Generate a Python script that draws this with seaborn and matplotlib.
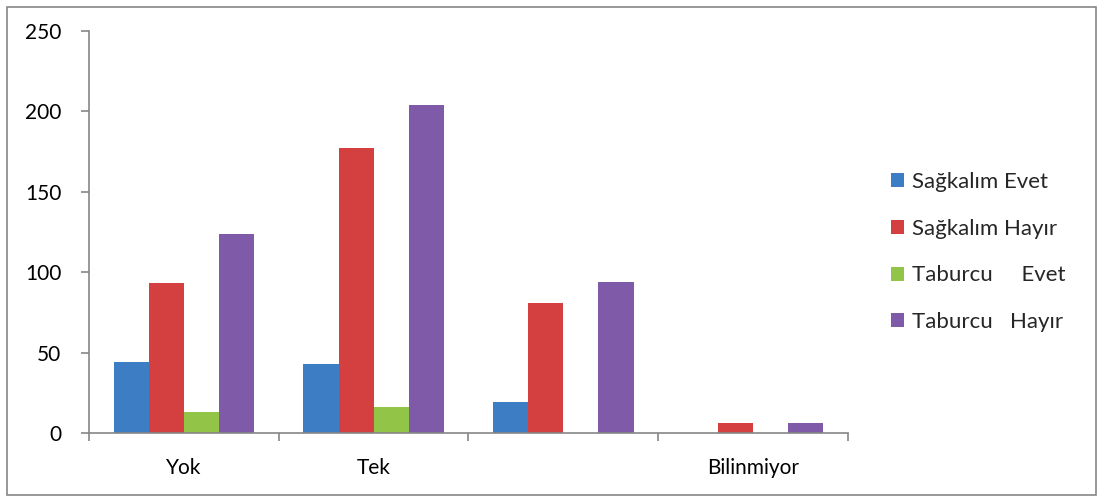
import matplotlib
matplotlib.use("Agg")
import matplotlib.pyplot as plt
import matplotlib.patches as mpatches
import seaborn as sns
import pandas as pd

categories = ["Yok", "Tek", " ", "Bilinmiyor"]
series_names = ["Sağkalım Evet", "Sağkalım Hayır", "Taburcu     Evet", "Taburcu   Hayır"]
sagkalim_evet = [44, 43, 19, 0]
sagkalim_hayir = [93, 177, 81, 6]
taburcu_evet = [13, 16, 0, 0]
taburcu_hayir = [124, 204, 94, 6]
y_ticks = [0, 50, 100, 150, 200, 250]

colors = ["#3C7DC4", "#D43F3F", "#92C447", "#7E5AA8"]

rows = []
for name, vals in zip(series_names, [sagkalim_evet, sagkalim_hayir, taburcu_evet, taburcu_hayir]):
    for c, v in zip(categories, vals):
        rows.append({"cat": c, "series": name, "value": v})
df = pd.DataFrame(rows)

sns.set_theme(style="white")
plt.rcParams["font.family"] = ["Lato", "DejaVu Sans"]

fig = plt.figure(figsize=(11.03, 5.01), dpi=100)
ax = fig.add_axes([89/1103, 1-433/501, (848-89)/1103, (433-31)/501])

sns.barplot(data=df, x="cat", y="value", hue="series", order=categories,
            hue_order=series_names, palette=colors, width=0.74, ax=ax,
            saturation=1, linewidth=0, legend=True)

ax.set_xlim(-0.5, 3.5)
ax.set_ylim(0, 250)
ax.set_yticks(y_ticks)
ax.set_xlabel("")
ax.set_ylabel("")
for s in ["top", "right"]:
    ax.spines[s].set_visible(False)
for s in ["left", "bottom"]:
    ax.spines[s].set_color("#868686")
    ax.spines[s].set_linewidth(1.2)

ax.tick_params(axis="y", which="major", direction="out", length=6, width=1.2,
               color="#868686", labelsize=15, pad=14, left=True)
ax.tick_params(axis="x", which="major", length=0, labelsize=15, pad=18)
ax.set_xticks([-0.5, 0.5, 1.5, 2.5, 3.5], minor=True)
ax.tick_params(axis="x", which="minor", direction="out", length=6, width=1.2,
               color="#868686", bottom=True)
for t in ax.get_xticklabels() + ax.get_yticklabels():
    t.set_color("black")

handles, labels = ax.get_legend_handles_labels()
ax.legend(handles, labels, loc="center left", bbox_to_anchor=(1.045, 0.45),
          frameon=False, fontsize=16, handlelength=0.6, handleheight=0.6,
          handletextpad=0.35, labelspacing=1.2, borderaxespad=0)

fig.patches.append(mpatches.Rectangle((7/1103, 1-495/501), (1096-7)/1103, (495-7)/501,
                                      transform=fig.transFigure, fill=False,
                                      edgecolor="#868686", linewidth=1.2))

fig.savefig("out.png", dpi=100)
